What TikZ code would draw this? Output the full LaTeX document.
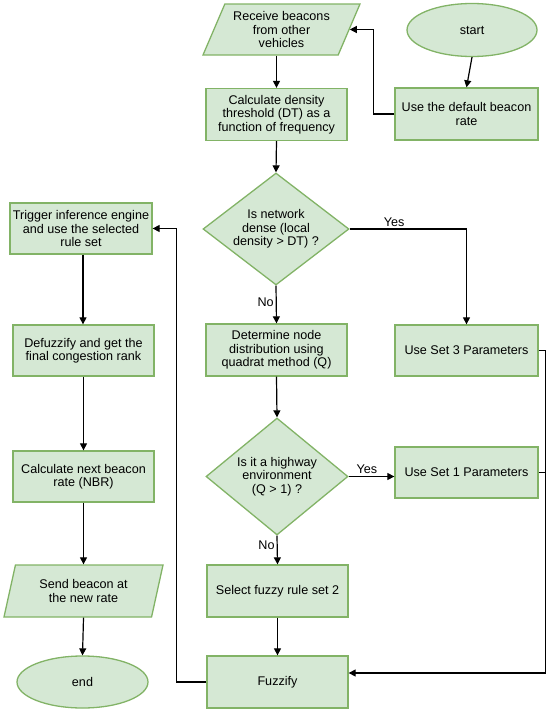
\documentclass[tikz,border=0pt]{standalone}
\usepackage{fontspec}
\setmainfont{Liberation Sans}
\usetikzlibrary{shapes.geometric,arrows.meta,calc}
\definecolor{gfill}{HTML}{D5E8D4}
\definecolor{gline}{HTML}{82B366}
\tikzset{
  base/.style={draw=gline, fill=gfill, line width=1.3pt, align=center, font=\fontsize{12.6}{13.3}\selectfont, inner sep=1pt},
  procbox/.style={base, rectangle, minimum width=141pt, minimum height=52pt},
  termin/.style={base, ellipse, minimum width=130pt, minimum height=53pt},
  decis/.style={base, diamond, inner sep=-8pt, shape aspect=1.3},
  iobox/.style={base, trapezium, trapezium stretches body=true, minimum height=51pt},
  arr/.style={draw=black, line width=1.2pt, -{Triangle[length=7pt,width=7pt]}},
  ln/.style={draw=black, line width=1.2pt},
  lbl/.style={font=\fontsize{12.6}{13}\selectfont, inner sep=2pt}
}
\begin{document}
\begin{tikzpicture}[x=1pt,y=-1pt]
\useasboundingbox (0,0) rectangle (550,712);
% nodes
\node[termin] (start) at (472,30) {start};
\node[iobox, trapezium left angle=60, trapezium right angle=120, minimum width=157pt] (receive) at (281.5,29.5) {Receive beacons\\from other\\vehicles};
\node[procbox, minimum width=143pt] (default) at (466.5,114) {Use the default beacon\\rate};
\node[procbox] (calc) at (276.5,114.5) {Calculate density\\threshold (DT) as a\\function of frequency};
\node[decis, minimum width=146pt, minimum height=112pt] (d1) at (276,229) {Is network\\dense (local\\density > DT) ?};
\node[procbox] (determine) at (276.5,350) {Determine node\\distribution using\\quadrat method (Q)};
\node[procbox, minimum width=143pt, minimum height=51pt] (set3) at (466.5,350.5) {Use Set 3 Parameters};
\node[decis, minimum width=142pt, minimum height=117pt] (d2) at (277,476.5) {Is it a highway\\environment\\(Q > 1) ?};
\node[procbox, minimum width=143pt, minimum height=51pt] (set1) at (466.5,472.5) {Use Set 1 Parameters};
\node[procbox] (select) at (277.5,591) {Select fuzzy rule set 2};
\node[procbox] (fuzzify) at (277.5,682) {Fuzzify};
\node[procbox, minimum width=142pt, minimum height=51pt] (trigger) at (81,228.5) {Trigger inference engine\\and use the selected\\rule set};
\node[procbox, minimum height=51pt] (defuzz) at (83.5,350.5) {Defuzzify and get the\\final congestion rank};
\node[procbox, minimum height=51pt] (nbr) at (83.5,476.5) {Calculate next beacon\\rate (NBR)};
\node[iobox, trapezium left angle=65, trapezium right angle=115, minimum width=159pt, minimum height=52pt] (send) at (83.5,591) {Send beacon at\\the new rate};
\node[termin, minimum width=131pt, minimum height=52pt] (end) at (82.5,682) {end};
% connectors
\draw[arr] (start.south) -- (default.north);
\draw[arr] (default.west) -- ++(-21,0) |- (receive.east);
\draw[arr] (calc.north |- receive.south) -- (calc.north);
\draw[arr] (calc.south) -- (d1.north);
\draw[arr] (d1.east) -| node[lbl, pos=0.19, above] {Yes} (set3.north);
\draw[arr] (d1.south) -- node[lbl, pos=0.45, left] {No} (determine.north);
\draw[arr] (determine.south) -- (d2.north);
\draw[arr] (d2.east) -- node[lbl, above, pos=0.4] {Yes} (d2.east -| set1.west);
\draw[arr] (d2.south) -- node[lbl, pos=0.35, left] {No} (select.north);
\draw[arr] (select.south) -- (fuzzify.north);
\draw[arr] (set3.east) -- ++(7,0) |- ([yshift=9pt]fuzzify.east);
\draw[ln] (set1.east) -- ++(7,0);
\draw[arr] (fuzzify.west) -- ++(-30,0) |- (trigger.east);
\draw[arr] ([xshift=2pt]trigger.south) -- ([xshift=2pt]trigger.south |- defuzz.north);
\draw[arr] (defuzz.south) -- (nbr.north);
\draw[arr] (nbr.south) -- (nbr.south |- send.north);
\draw[arr] (send.south) -- (end.north);
\end{tikzpicture}
\end{document}
